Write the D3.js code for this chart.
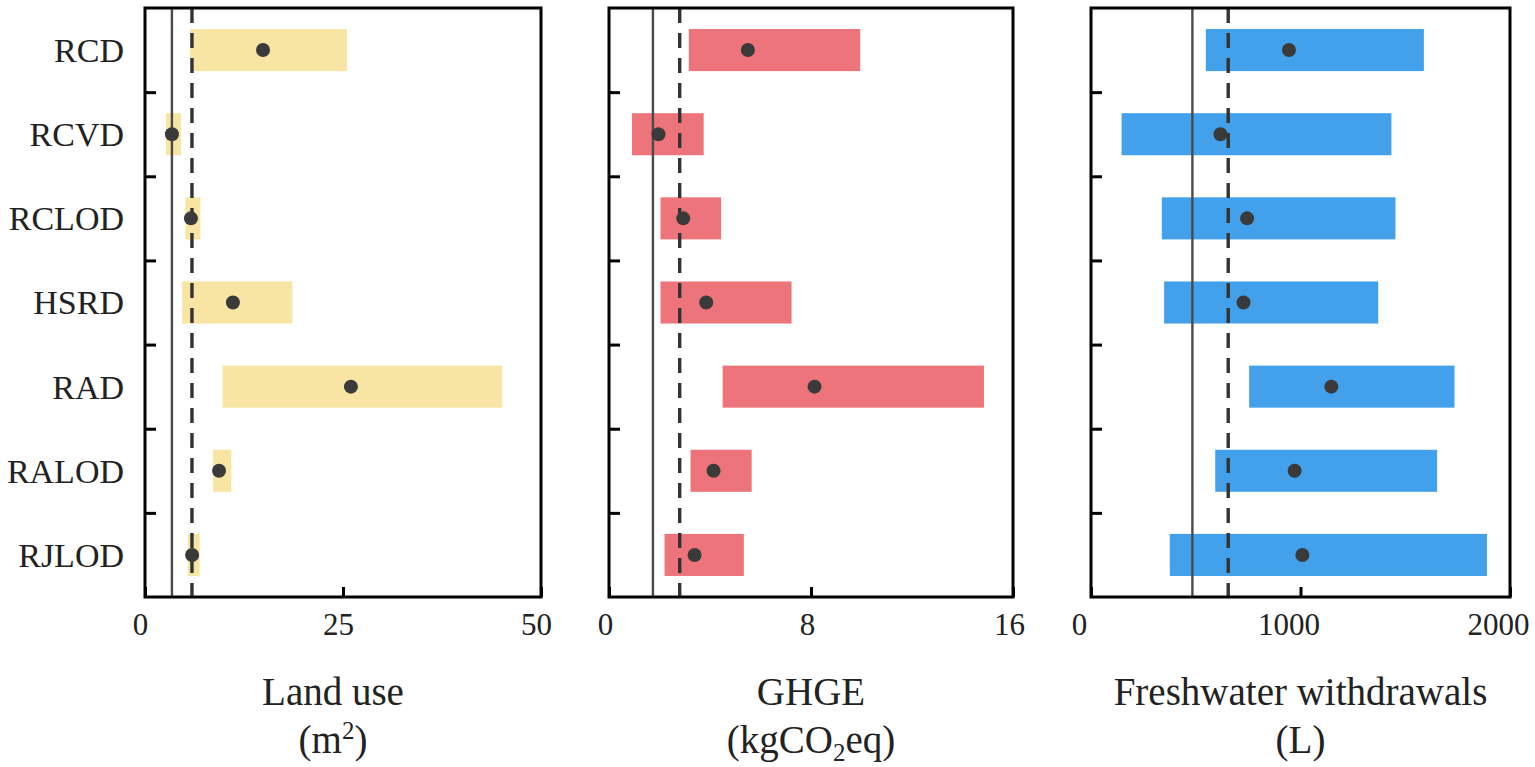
<!DOCTYPE html>
<html>
<head>
<meta charset="utf-8">
<script src="https://cdn.jsdelivr.net/npm/d3@7"></script>
<style>
  html, body { margin: 0; padding: 0; background: #fff; }
  svg { display: block; font-family: "Liberation Serif", "Times New Roman", serif; }
</style>
</head>
<body>
<svg id="chart" width="1535" height="767"></svg>
<script>
// --- data ---
const categories = ["RCD", "RCVD", "RCLOD", "HSRD", "RAD", "RALOD", "RJLOD"];

const landLow  = [5.7, 2.65, 5.1, 4.7, 9.8, 8.6, 5.4];
const landHigh = [25.5, 4.55, 7.0, 18.6, 45.1, 10.9, 6.9];
const landMid  = [14.9, 3.4, 5.8, 11.1, 26.0, 9.35, 5.95];
const landRefs = [3.4, 5.93];         // [solid, dashed]
const landTicks = [0, 25, 50];

const ghgeLow  = [3.16, 0.91, 2.04, 2.04, 4.5, 3.23, 2.2];
const ghgeHigh = [9.95, 3.75, 4.44, 7.23, 14.85, 5.65, 5.34];
const ghgeMid  = [5.5, 1.96, 2.94, 3.85, 8.14, 4.14, 3.39];
const ghgeRefs = [1.74, 2.8];
const ghgeTicks = [0, 8, 16];

const waterLow  = [548, 146, 338, 349, 755, 593, 376];
const waterHigh = [1589, 1434, 1453, 1371, 1735, 1652, 1890];
const waterMid  = [945, 618, 745, 728, 1147, 972, 1009];
const waterRefs = [484, 655];
const waterTicks = [0, 1000, 2000];

const titles = ["Land use", "GHGE", "Freshwater withdrawals"];
// unit line, pieces: [text, "sup"|"sub"|""]
const units = [
  [["(m", ""], ["2", "sup"], [")", ""]],
  [["(kgCO", ""], ["2", "sub"], ["eq)", ""]],
  [["(L)", ""]]
];

// --- layout (kept apart from the data) ---
const plotTop = 8, plotBottom = 597;
const panels = [
  { x0: 145,  x1: 541,  low: landLow,  high: landHigh,  mid: landMid,  refs: landRefs,  ticks: landTicks,  color: "#f8e5a4", labelDx: -5,  titleDx: -10 },
  { x0: 609,  x1: 1013, low: ghgeLow,  high: ghgeHigh,  mid: ghgeMid,  refs: ghgeRefs,  ticks: ghgeTicks,  color: "#ee747b", labelDx: -4,  titleDx: 0 },
  { x0: 1091, x1: 1510, low: waterLow, high: waterHigh, mid: waterMid, refs: waterRefs, ticks: waterTicks, color: "#42a1ea", labelDx: -12, titleDx: 0 }
];

const svg = d3.select("#chart");

const y = d3.scaleBand().domain(categories).range([plotTop, plotBottom]).padding(0);
const yEdge = d3.scaleLinear().domain([0, categories.length]).range([plotTop, plotBottom]);
const barH = y.bandwidth() * 0.5;

panels.forEach((p, pi) => {
  const x = d3.scaleLinear().domain([p.ticks[0], p.ticks[2]]).range([p.x0, p.x1]);
  const g = svg.append("g");

  // range bars
  g.append("g").selectAll("rect")
    .data(categories)
    .join("rect")
    .attr("x", (d, i) => x(p.low[i]))
    .attr("width", (d, i) => x(p.high[i]) - x(p.low[i]))
    .attr("y", d => y(d) + (y.bandwidth() - barH) / 2)
    .attr("height", barH)
    .attr("fill", p.color);

  // reference lines: solid then dashed
  g.append("line")
    .attr("x1", x(p.refs[0])).attr("x2", x(p.refs[0]))
    .attr("y1", plotTop).attr("y2", plotBottom)
    .attr("stroke", "#4a4a4a").attr("stroke-width", 2.4);
  g.append("line")
    .attr("x1", x(p.refs[1])).attr("x2", x(p.refs[1]))
    .attr("y1", plotTop).attr("y2", plotBottom)
    .attr("stroke", "#333").attr("stroke-width", 3.4)
    .attr("stroke-dasharray", "15,10");

  // mean points
  g.append("g").selectAll("circle")
    .data(categories)
    .join("circle")
    .attr("cx", (d, i) => x(p.mid[i]))
    .attr("cy", d => y(d) + y.bandwidth() / 2)
    .attr("r", 7)
    .attr("fill", "#3a3a3a");

  // frame
  g.append("rect")
    .attr("x", p.x0).attr("y", plotTop)
    .attr("width", p.x1 - p.x0).attr("height", plotBottom - plotTop)
    .attr("fill", "none").attr("stroke", "#000").attr("stroke-width", 3);

  // x axis: inward ticks
  const xAxis = g.append("g")
    .attr("transform", `translate(0,${plotBottom})`)
    .call(d3.axisBottom(x).tickValues(p.ticks).tickSize(-10).tickSizeOuter(0).tickFormat(d3.format("d")));
  xAxis.select(".domain").remove();
  xAxis.selectAll("line").attr("stroke", "#000").attr("stroke-width", 3);
  xAxis.selectAll("text")
    .attr("y", 38).attr("dy", 0).attr("dx", p.labelDx)
    .attr("font-size", 31).attr("fill", "#222")
    .style("font-family", '"Liberation Serif", serif');

  // y axis: inward ticks at band edges
  const yAxis = g.append("g")
    .attr("transform", `translate(${p.x0},0)`)
    .call(d3.axisLeft(yEdge).tickValues(d3.range(1, categories.length)).tickSize(-11).tickFormat(""));
  yAxis.select(".domain").remove();
  yAxis.selectAll("line").attr("stroke", "#000").attr("stroke-width", 3);

  // category names only on the first panel
  if (pi === 0) {
    const cat = g.append("g")
      .attr("transform", "translate(124,0)")
      .call(d3.axisLeft(y).tickSize(0).tickPadding(0));
    cat.select(".domain").remove();
    cat.selectAll("text")
      .attr("font-size", 34).attr("fill", "#222")
      .attr("dy", "0.35em")
      .style("font-family", '"Liberation Serif", serif');
  }

  // titles
  const cx = (p.x0 + p.x1) / 2 + p.titleDx;
  g.append("text")
    .attr("x", cx).attr("y", 705)
    .attr("text-anchor", "middle")
    .attr("font-size", 39).attr("fill", "#222")
    .text(titles[pi]);
  const u = g.append("text")
    .attr("x", cx).attr("y", 753)
    .attr("text-anchor", "middle")
    .attr("font-size", 39).attr("fill", "#222");
  let shift = 0;
  units[pi].forEach(([t, kind]) => {
    const ts = u.append("tspan").text(t);
    const want = kind === "sup" ? -14 : kind === "sub" ? 8 : 0;
    if (want !== shift) ts.attr("dy", want - shift);
    if (kind) ts.attr("font-size", 25);
    shift = want;
  });
});
</script>
</body>
</html>
